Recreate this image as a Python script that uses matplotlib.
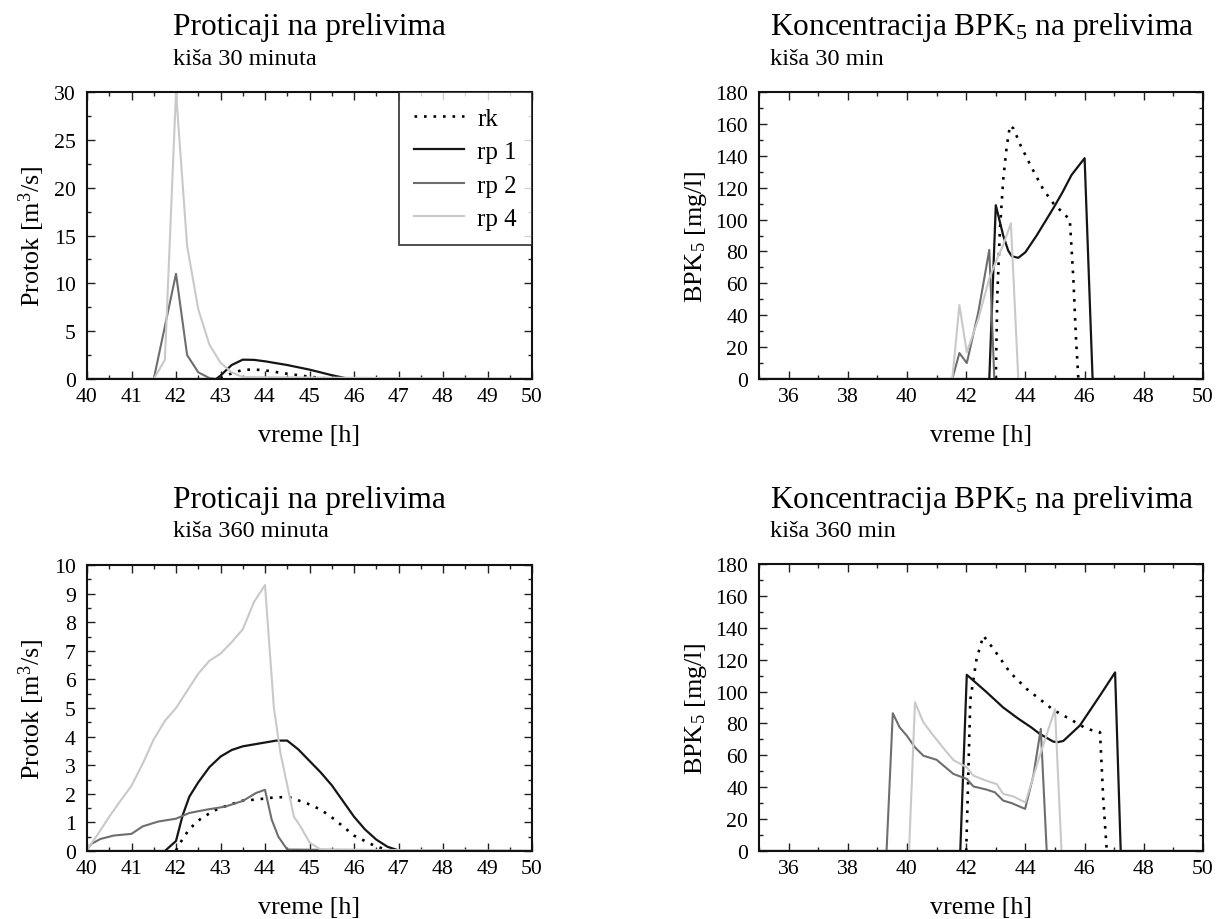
import matplotlib
matplotlib.use('Agg')
import matplotlib.pyplot as plt
from matplotlib.ticker import MultipleLocator

plt.rcParams['font.family'] = ['Liberation Serif', 'DejaVu Serif']
plt.rcParams['mathtext.fontset'] = 'custom'
plt.rcParams['mathtext.rm'] = 'Liberation Serif'
plt.rcParams['mathtext.it'] = 'Liberation Serif:italic'
plt.rcParams['mathtext.bf'] = 'Liberation Serif:bold'

# ---------------- data ----------------
series_names = ['rk', 'rp 1', 'rp 2', 'rp 4']

# Protok, kiša 30 minuta
q30_rk_t = [43.0, 43.25, 43.5, 43.75, 44.0, 44.5, 45.0, 45.5]
q30_rk_v = [0.05, 0.6, 0.95, 1.0, 0.9, 0.55, 0.24, 0.0]
q30_rp1_t = [40, 42.9, 43.0, 43.14, 43.25, 43.5, 43.75, 44.0, 44.5, 45.0, 45.5, 45.9, 50]
q30_rp1_v = [0, 0, 0.35, 0.98, 1.46, 2.02, 2.0, 1.85, 1.46, 0.98, 0.4, 0, 0]
q30_rp2_t = [40, 41.5, 42.0, 42.25, 42.5, 42.75, 42.9, 50]
q30_rp2_v = [0, 0, 11.0, 2.5, 0.7, 0.1, 0, 0]
q30_rp4_t = [40, 41.5, 41.75, 42.0, 42.25, 42.5, 42.75, 43.0, 43.25, 43.5, 50]
q30_rp4_v = [0, 0, 2.0, 30.0, 13.9, 7.3, 3.6, 1.7, 0.7, 0.2, 0]

# Protok, kiša 360 minuta
q360_rk_t = [42.0, 42.1, 42.3, 42.55, 42.85, 43.15, 43.5, 43.8, 44.25, 44.55, 44.95,
             45.25, 45.55, 46.0, 46.45, 46.8]
q360_rk_v = [0.02, 0.3, 0.77, 1.12, 1.41, 1.59, 1.76, 1.8, 1.88, 1.88, 1.66,
             1.45, 1.12, 0.54, 0.19, 0]
q360_rp1_t = [40, 41.75, 42.0, 42.15, 42.3, 42.5, 42.75, 43.0, 43.25, 43.5, 43.8, 44.25,
              44.5, 44.75, 45.0, 45.25, 45.5, 45.75, 46.0, 46.25, 46.5, 46.75, 47.0, 47.1, 50]
q360_rp1_v = [0, 0, 0.35, 1.25, 1.9, 2.4, 2.93, 3.3, 3.53, 3.66, 3.74, 3.86,
              3.86, 3.55, 3.15, 2.75, 2.3, 1.75, 1.2, 0.75, 0.4, 0.15, 0.02, 0, 0]
q360_rp2_t = [40, 40.1, 40.3, 40.6, 41.0, 41.25, 41.6, 42.0, 42.3, 42.7, 43.1, 43.5,
              43.8, 44.0, 44.15, 44.3, 44.5, 50]
q360_rp2_v = [0.05, 0.25, 0.42, 0.54, 0.6, 0.86, 1.03, 1.13, 1.33, 1.45, 1.55, 1.75,
              2.03, 2.14, 1.1, 0.5, 0.05, 0]
q360_rp4_t = [40.0, 40.25, 40.5, 40.75, 41.0, 41.25, 41.5, 41.75, 42.0, 42.25, 42.5, 42.75,
              43.0, 43.25, 43.5, 43.75, 44.0, 44.2, 44.35, 44.5, 44.65, 44.8, 45.0, 45.25, 50]
q360_rp4_v = [0.05, 0.6, 1.2, 1.75, 2.28, 3.05, 3.9, 4.55, 5.0, 5.6, 6.2, 6.65,
              6.9, 7.3, 7.75, 8.7, 9.3, 5.0, 3.4, 2.3, 1.2, 0.85, 0.3, 0.05, 0]

# BPK5, kiša 30 min
c30_rk_t = [43.0, 43.05, 43.14, 43.25, 43.37, 43.48, 43.6, 43.85, 44.2, 44.6, 44.95,
            45.5, 45.62, 45.71, 45.79]
c30_rk_v = [0, 52, 94, 125, 146, 159, 157, 146, 133, 119, 110,
            100, 63, 25, 0]
c30_rp1_t = [35, 42.78, 43.0, 43.25, 43.42, 43.54, 43.76, 44.0, 44.38, 44.94, 45.25,
             45.56, 46.0, 46.27, 50]
c30_rp1_v = [0, 0, 109, 90, 80.5, 77, 76, 79.5, 90, 107, 117,
             128, 138.5, 0, 0]
c30_rp2_t = [35, 41.53, 41.77, 42.02, 42.41, 42.78, 42.95, 50]
c30_rp2_v = [0, 0, 16.3, 10, 42, 81, 0, 0]
c30_rp4_t = [35, 41.53, 41.77, 42.02, 42.41, 42.78, 43.03, 43.25, 43.51, 43.76, 50]
c30_rp4_v = [0, 0, 46.4, 16.7, 37.7, 63, 75, 84, 97.7, 0, 0]

# BPK5, kiša 360 min
c360_rk_t = [42.0, 42.14, 42.35, 42.58, 42.92, 43.48, 44.04, 44.5, 44.94, 45.5,
             46.07, 46.52, 46.63, 46.75]
c360_rk_v = [0, 95, 120.5, 135, 126.8, 112, 101.7, 95, 88.5, 82.8,
             76.6, 74.5, 32.6, 0]
c360_rp1_t = [35, 41.8, 42.02, 42.69, 43.25, 43.76, 44.2, 44.49, 44.94, 45.1, 45.28,
              45.84, 46.52, 47.03, 47.22, 50]
c360_rp1_v = [0, 0, 110.5, 99.6, 90, 83, 77.5, 73.4, 68.6, 68.3, 69,
              78.7, 97.5, 112, 0, 0]
c360_rp2_t = [35, 39.31, 39.52, 39.75, 39.99, 40.27, 40.55, 41.0, 41.23, 41.57, 42.02,
              42.24, 42.69, 42.97, 43.25, 43.54, 43.99, 44.27, 44.52, 44.72, 50]
c360_rp2_v = [0, 0, 86.4, 77.6, 72.4, 65, 59.8, 57.2, 53.6, 48.3, 45.2,
              40.5, 38.5, 36.8, 31.6, 30, 26.4, 47.3, 76.6, 0, 0]
c360_rp4_t = [35, 40.07, 40.27, 40.55, 40.89, 41.34, 41.57, 42.02, 42.24, 42.69, 43.03,
              43.25, 43.59, 44.0, 44.49, 45.0, 45.22, 50]
c360_rp4_v = [0, 0, 93.3, 80.8, 72.4, 62, 57, 52.5, 47.3, 44, 42,
              35.8, 34.2, 30.5, 60, 89, 0, 0]

# ---------------- styles ----------------
styles = {
    'rk':   dict(color='black', lw=1.9, ls=(0, (1.0, 2.6))),
    'rp 1': dict(color='#151515', lw=1.6, ls='-'),
    'rp 2': dict(color='#6e6e6e', lw=1.5, ls='-'),
    'rp 4': dict(color='#c9c9c9', lw=1.5, ls='-'),
}

W, H = 1217, 920
fig = plt.figure(figsize=(W / 100, H / 100), dpi=100)


def add_ax(l, t, r, b):
    return fig.add_axes([l / W, 1 - b / H, (r - l) / W, (b - t) / H])


def style_axes(ax, xlim, xmaj, xmin, ylim, ymaj, ymin):
    ax.set_xlim(*xlim)
    ax.set_ylim(*ylim)
    ax.xaxis.set_major_locator(MultipleLocator(xmaj))
    ax.xaxis.set_minor_locator(MultipleLocator(xmin))
    ax.yaxis.set_major_locator(MultipleLocator(ymaj))
    ax.yaxis.set_minor_locator(MultipleLocator(ymin))
    ax.tick_params(which='both', direction='in', top=True, right=True, width=1.0,
                   color='#222222')
    ax.tick_params(which='major', length=5.5, labelsize=15.7)
    ax.tick_params(which='minor', length=3.2)
    ax.tick_params(axis='x', pad=6)
    ax.tick_params(axis='y', pad=8)
    for s in ax.spines.values():
        s.set_linewidth(1.5)
        s.set_color('#111111')
    ax.set_xlabel('vreme [h]', fontsize=18.8, labelpad=13)


def draw(ax, data):
    for name, (t, v) in zip(series_names, data):
        st = styles[name]
        ax.plot(t, v, color=st['color'], lw=st['lw'], ls=st['ls'], label=name,
                solid_joinstyle='round')


# top-left
ax1 = add_ax(87, 93, 532, 380)
draw(ax1, [(q30_rk_t, q30_rk_v), (q30_rp1_t, q30_rp1_v),
           (q30_rp2_t, q30_rp2_v), (q30_rp4_t, q30_rp4_v)])
style_axes(ax1, (40, 50), 1, 0.5, (0, 30), 5, 2.5)
ax1.set_ylabel('Protok [m$^3$/s]', fontsize=18.8)
ax1.yaxis.set_label_coords(-0.089, 0.5)
leg = ax1.legend(loc='upper right', fontsize=18, frameon=True, fancybox=False,
                 borderaxespad=0, borderpad=0.6, handlelength=2.0,
                 handletextpad=0.55, labelspacing=0.44)
leg.get_frame().set_edgecolor('#111111')
leg.get_frame().set_linewidth(1.3)

# top-right
ax2 = add_ax(759, 93, 1203, 380)
draw(ax2, [(c30_rk_t, c30_rk_v), (c30_rp1_t, c30_rp1_v),
           (c30_rp2_t, c30_rp2_v), (c30_rp4_t, c30_rp4_v)])
style_axes(ax2, (35, 50), 2, 1, (0, 180), 20, 10)
ax2.set_ylabel('BPK$_5$ [mg/l]', fontsize=18.8)
ax2.yaxis.set_label_coords(-0.112, 0.5)

# bottom-left
ax3 = add_ax(87, 566, 532, 852)
draw(ax3, [(q360_rk_t, q360_rk_v), (q360_rp1_t, q360_rp1_v),
           (q360_rp2_t, q360_rp2_v), (q360_rp4_t, q360_rp4_v)])
style_axes(ax3, (40, 50), 1, 0.5, (0, 10), 1, 0.5)
ax3.set_ylabel('Protok [m$^3$/s]', fontsize=18.8)
ax3.yaxis.set_label_coords(-0.089, 0.5)

# bottom-right
ax4 = add_ax(759, 565, 1203, 852)
draw(ax4, [(c360_rk_t, c360_rk_v), (c360_rp1_t, c360_rp1_v),
           (c360_rp2_t, c360_rp2_v), (c360_rp4_t, c360_rp4_v)])
style_axes(ax4, (35, 50), 2, 1, (0, 180), 20, 10)
ax4.set_ylabel('BPK$_5$ [mg/l]', fontsize=18.8)
ax4.yaxis.set_label_coords(-0.112, 0.5)

# titles
def title(x, y_base, text, size):
    fig.text(x / W, 1 - y_base / H, text, fontsize=size, ha='left', va='baseline')

title(173, 35, 'Proticaji na prelivima', 22.6)
title(173, 65, 'kiša 30 minuta', 17.6)
title(770, 35, 'Koncentracija BPK$_5$ na prelivima', 22.6)
title(770, 65, 'kiša 30 min', 17.6)
title(173, 508, 'Proticaji na prelivima', 22.6)
title(173, 537, 'kiša 360 minuta', 17.6)
title(770, 508, 'Koncentracija BPK$_5$ na prelivima', 22.6)
title(770, 537, 'kiša 360 min', 17.6)

fig.savefig('out.png', dpi=100)
